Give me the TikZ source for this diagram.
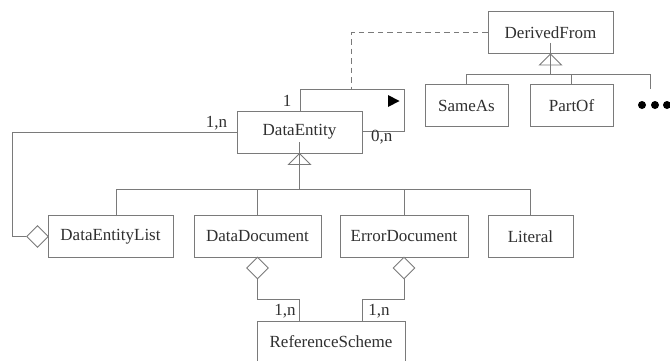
\documentclass[tikz,border=0pt]{standalone}
\usepackage{fontspec}
\setmainfont{Liberation Serif}
\usetikzlibrary{shapes.geometric}
\definecolor{linegray}{HTML}{7A7A7A}
\definecolor{textgray}{HTML}{303030}
\begin{document}
\begin{tikzpicture}[x=1pt,y=-1pt,
  line/.style={draw=linegray, line width=0.9pt},
  dashline/.style={draw=linegray, line width=0.9pt, dash pattern=on 5.5pt off 4pt},
  box/.style={draw=linegray, line width=0.9pt, fill=white, inner sep=0pt,
    font=\fontsize{17}{20}\selectfont, text=textgray, minimum height=42pt},
  lbl/.style={inner sep=0pt, font=\fontsize{17}{20}\selectfont, text=textgray},
  agg/.style={diamond, draw=linegray, line width=0.9pt, fill=white,
    minimum width=22pt, minimum height=22pt, inner sep=0pt},
  gen/.style={draw=linegray, line width=0.9pt, fill=white},
  dot/.style={circle, fill=black, inner sep=0pt, minimum size=8pt}]
\useasboundingbox (0,0) rectangle (670,360);
\clip (0,0) rectangle (670,360);

% boxes
\node[box, minimum width=125pt] (DF)  at (550.5,32.5) {DerivedFrom};
\node[box, minimum width=83pt]  (SA)  at (466.5,105.5) {SameAs};
\node[box, minimum width=83pt]  (PO)  at (571.5,105.5) {PartOf};
\node[box, minimum width=125pt] (DE)  at (299.5,132) {DataEntity};
\node[box, minimum width=125pt] (DEL) at (110.5,236.5) {DataEntityList};
\node[box, minimum width=127pt] (DD)  at (257.5,236.5) {DataDocument};
\node[box, minimum width=128pt] (ED)  at (404,236.5) {ErrorDocument};
\node[box, minimum width=85pt]  (LI)  at (530.5,236.5) {Literal};
\node[box, minimum width=148pt] (RS)  at (331,342) {ReferenceScheme};

% generalization DerivedFrom
\draw[gen] (DF.south) -- ++(-11,11) -- ++(22,0) -- cycle;
\coordinate (dfbase) at ([yshift=11pt]DF.south);
\coordinate (dfbar) at (550.5,74);
\coordinate (more) at (650,89);
\draw[line] (dfbase) -- (dfbar);
\draw[line] (SA.north) -- (SA.north |- dfbar) -- (more |- dfbar) -- (more);
\draw[line] (PO.north) -- (PO.north |- dfbar);
\node[dot] (d1) at (642,105) {};
\node[dot] (d2) at (655,105) {};
\node[dot] (d3) at (667,105) {};

% self association on DataEntity
\coordinate (lp1) at (300,89.5);
\coordinate (lp2) at (404.5,89.5);
\coordinate (lp3) at (404.5,131.5);
\draw[line] ([xshift=0.5pt]DE.north) -- (lp1) -- (lp2) -- (lp3) -- (lp3 -| DE.east);
\draw[fill=black, draw=none] (388,95) -- (399.5,101) -- (388,107) -- cycle;
\node[lbl] (l1) at (287,101) {1};
\node[lbl] (l0n) at (381.7,137) {0,n};

% dashed dependency
\coordinate (dsh) at (351.7,89.5);
\draw[dashline] (DF.west) -- (DF.west -| dsh) -- (dsh);

% generalization DataEntity
\draw[gen] (DE.south) -- ++(-11,11) -- ++(22,0) -- cycle;
\coordinate (debase) at ([yshift=11pt]DE.south);
\coordinate (debar) at (299.5,189.5);
\coordinate (delt) at (116,216);
\draw[line] (debase) -- (debar);
\draw[line] (delt) -- (delt |- debar) -- (LI.north |- debar) -- (LI.north);
\draw[line] (DD.north) -- (DD.north |- debar);
\draw[line] (ED.north) -- (ED.north |- debar);

% aggregation DataEntityList
\node[agg] (ag1) at (37.5,236.5) {};
\coordinate (c1) at (12,236.5);
\draw[line] (ag1.west) -- (c1) -- (c1 |- DE.west) -- (DE.west);
\node[lbl] (l1n) at (216.5,123) {1,n};

% aggregation DataDocument -> ReferenceScheme
\node[agg] (ag2) at (257.5,268) {};
\coordinate (c2) at (257.5,299.5);
\coordinate (rs1) at (299.5,320.5);
\draw[line] (ag2.south) -- (c2) -- (c2 -| rs1) -- (rs1);
\node[lbl] (l2) at (285,311.5) {1,n};

% aggregation ErrorDocument -> ReferenceScheme
\node[agg] (ag3) at (404,268) {};
\coordinate (c3) at (404,299.5);
\coordinate (rs2) at (362.5,320.5);
\draw[line] (ag3.south) -- (c3) -- (c3 -| rs2) -- (rs2);
\node[lbl] (l3) at (379,311.5) {1,n};
\end{tikzpicture}
\end{document}
